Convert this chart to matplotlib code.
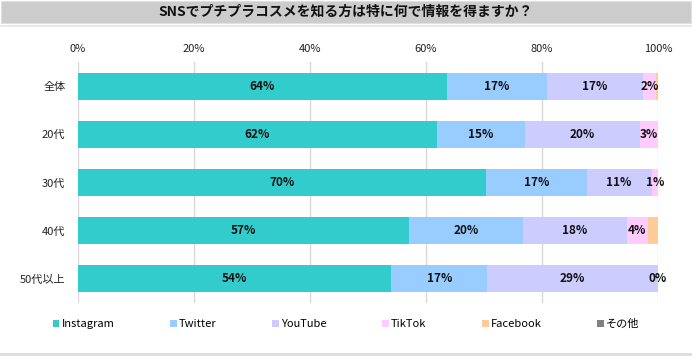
import numpy as np
import matplotlib.pyplot as plt
from matplotlib.patches import Rectangle
from matplotlib.lines import Line2D

plt.rcParams['font.family'] = ['Noto Sans CJK JP', 'DejaVu Sans']

# Data (percent)
groups = ["全体", "20代", "30代", "40代", "50代以上"]
series = ["Instagram", "Twitter", "YouTube", "TikTok", "Facebook", "その他"]
instagram = [63.6, 61.9, 70.3, 57.0, 54.0]
twitter = [17.2, 15.2, 17.4, 19.8, 16.6]
youtube = [16.6, 19.8, 11.2, 17.8, 29.4]
tiktok = [2.3, 3.1, 1.1, 3.6, 0.0]
facebook = [0.3, 0.0, 0.0, 1.8, 0.0]
other = [0.0, 0.0, 0.0, 0.0, 0.0]
colors = ["#33CCCC", "#99CCFF", "#CCCCFF", "#FFCCFF", "#FFCC99", "#808080"]
show_label = [True, True, True, True, False, False]

values = [instagram, twitter, youtube, tiktok, facebook, other]

fig = plt.figure(figsize=(6.92, 3.57), dpi=100)
ax = fig.add_axes([78 / 692, 1 - 303 / 357, 580 / 692, 241 / 357])

y = np.arange(len(groups))
left = np.zeros(len(groups))
for name, vals, col, lab in zip(series, values, colors, show_label):
    vals = np.array(vals)
    ax.barh(y, vals, left=left, height=0.56, color=col, label=name, zorder=2)
    if lab:
        for yi, (l, v) in enumerate(zip(left, vals)):
            ax.text(l + v / 2, yi, f"{v:.0f}%", ha="center", va="center",
                    fontsize=8.5, fontweight="bold", color="#111111", zorder=3)
    left += vals

ax.set_xlim(0, 100)
ax.set_ylim(len(groups) - 0.5, -0.5)
ax.set_xticks(np.arange(0, 101, 20))
ax.set_xticklabels([f"{t}%" for t in range(0, 101, 20)], fontsize=8, color="#222222")
ax.xaxis.tick_top()
ax.tick_params(axis="x", length=0, pad=6)
ax.set_yticks(y)
ax.set_yticklabels(groups, fontsize=8, color="#222222")
ax.tick_params(axis="y", length=0, pad=9)
ax.grid(axis="x", color="#d9d9d9", linewidth=1, zorder=0)
for s in ax.spines.values():
    s.set_visible(False)

# title bar
fig.patches.append(Rectangle((1 / 692, 1 - 23 / 357), 690 / 692, 22 / 357,
                             transform=fig.transFigure, facecolor="#cccccc",
                             edgecolor="#e0e0e0", linewidth=0.8, zorder=0))
fig.lines.append(Line2D([0, 1], [1 - 26 / 357] * 2, transform=fig.transFigure,
                        color="#e4e4e4", linewidth=1.2))
fig.lines.append(Line2D([0, 1], [1 - 354 / 357] * 2, transform=fig.transFigure,
                        color="#dddddd", linewidth=2))
fig.text(0.5, 1 - 12 / 357, "SNSでプチプラコスメを知る方は特に何で情報を得ますか？",
         ha="center", va="center", fontsize=10, fontweight="bold", color="#111111")

# legend
handles = [Rectangle((0, 0), 1, 1, facecolor=c, edgecolor="none") for c in colors]
fig.legend(handles, series, loc="center", bbox_to_anchor=(0.5, 1 - 324 / 357),
           ncol=6, frameon=False, fontsize=8, handlelength=0.6, handleheight=0.6,
           handletextpad=0.2, columnspacing=5.0)

fig.savefig("out.png", dpi=100)
